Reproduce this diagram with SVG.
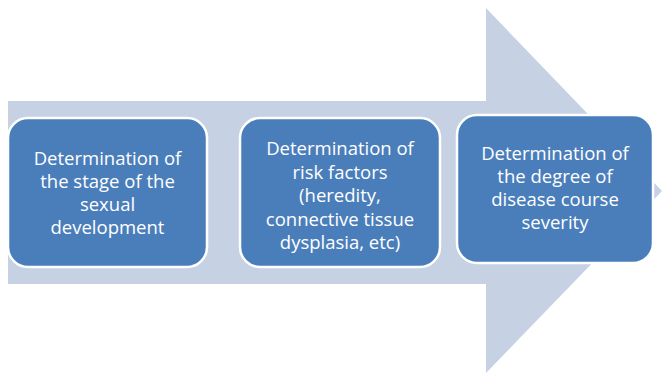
<svg xmlns="http://www.w3.org/2000/svg" width="665" height="374" viewBox="0 0 665 374">
<style>
.box{fill:#4a7ebb;stroke:#ffffff;stroke-width:2.5}
.t{font-family:"Open Sans","Liberation Sans",Arial,sans-serif;font-size:18.5px;fill:#ffffff;text-anchor:middle}
</style>
<rect width="665" height="374" fill="#ffffff"/>
<g id="connectors">
<polygon points="8,101 486,101 486,8 662,191 486,373 486,284 8,284" fill="#c6d2e4"/>
</g>
<g id="node1">
<rect class="box" x="8" y="118" width="199" height="149" rx="20"/>
<text class="t" x="107.5" y="165">Determination of</text>
<text class="t" x="107.5" y="188">the stage of the</text>
<text class="t" x="107.5" y="211">sexual</text>
<text class="t" x="107.5" y="234">development</text>
</g>
<g id="node2">
<rect class="box" x="240" y="118" width="200" height="149" rx="20"/>
<text class="t" x="340" y="155">Determination of</text>
<text class="t" x="340" y="179">risk factors</text>
<text class="t" x="340" y="202">(heredity,</text>
<text class="t" x="340" y="226">connective tissue</text>
<text class="t" x="340" y="249">dysplasia, etc)</text>
</g>
<g id="node3">
<rect class="box" x="457" y="115" width="196" height="148" rx="20"/>
<text class="t" x="555" y="160">Determination of</text>
<text class="t" x="555" y="183">the degree of</text>
<text class="t" x="555" y="206">disease course</text>
<text class="t" x="555" y="229">severity</text>
</g>
</svg>
